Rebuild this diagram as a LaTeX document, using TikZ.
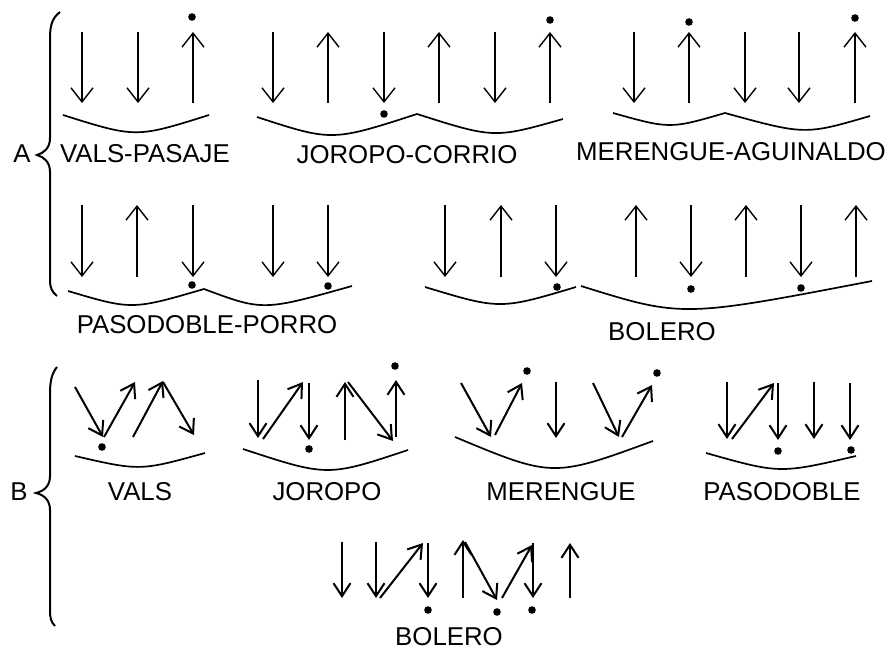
\documentclass[tikz,border=0pt]{standalone}
\usepackage{fontspec}
\setmainfont{Liberation Sans}
\usetikzlibrary{arrows.meta}
\tikzset{
  aarr/.style={line width=1.4pt,-{Straight Barb[length=14pt,width=22pt]}},
  barr/.style={line width=2pt,-{Straight Barb[length=13pt,width=17pt]}},
  arcline/.style={line width=1.7pt},
  bracel/.style={line width=2pt},
  lbl/.style={anchor=base,inner sep=0pt,font=\fontsize{25.8}{30}\selectfont},
}
\newcommand{\dotat}[2]{\fill (#1,#2) circle (3.8pt);}
\begin{document}
\begin{tikzpicture}[x=1pt,y=-1pt]
\useasboundingbox (0,0) rectangle (895,651);
% ---------- braces ----------
\draw[bracel] (60,12) .. controls (52,18) and (50,26) .. (50,38) -- (50,138)
  .. controls (50,148) and (44,153) .. (37,155) .. controls (44,157) and (50,162) .. (50,172)
  -- (50,280) .. controls (50,288) and (52,292) .. (57,296);
\draw[bracel] (57,367) .. controls (52,373) and (50,381) .. (50,393) -- (50,476)
  .. controls (50,486) and (44,491) .. (36,493) .. controls (44,495) and (50,500) .. (50,510)
  -- (50,610) .. controls (50,618) and (51,622) .. (55,626);
\node[lbl] (labA) at (22,162) {A};
\node[lbl] (labB) at (19,500) {B};
% ---------- A row 1 ----------
\foreach \x in {82,138,273,384,495,634,745,799} \draw[aarr] (\x,32) -- (\x,103);
\foreach \x in {193,328,439,550,689,855} \draw[aarr] (\x,103) -- (\x,32);
\dotat{192}{17} \dotat{384}{114} \dotat{550}{20} \dotat{689}{22} \dotat{855}{18}
\draw[arcline] (63,115) .. controls (136,138) .. (209,115);
\draw[arcline] (257,117) .. controls (332,141.5) .. (417,114) .. controls (494,138.5) .. (563,119);
\draw[arcline] (613,113) .. controls (670,129) .. (725,113) .. controls (805,135) .. (870,116);
\node[lbl] (vp) at (145,162) {VALS-PASAJE};
\node[lbl] (jc) at (407,163) {JOROPO-CORRIO};
\node[lbl] (ma) at (731,160) {MERENGUE-AGUINALDO};
% ---------- A row 2 ----------
\foreach \x in {82,193,273,328,445,556,691,801} \draw[aarr] (\x,205) -- (\x,277);
\foreach \x in {137,501,636,746,856} \draw[aarr] (\x,277) -- (\x,205);
\dotat{192}{285} \dotat{328}{286} \dotat{557}{287} \dotat{691}{289} \dotat{801}{288}
\draw[arcline] (68,291) .. controls (132,310) .. (204,289) .. controls (263,311) .. (352,286);
\draw[arcline] (425,287) .. controls (500,309.7) .. (576,287);
\draw[arcline] (581,286) .. controls (682,317.5) .. (872,281);
\node[lbl] (pp) at (207,333) {PASODOBLE-PORRO};
\node[lbl] (boA) at (662,340) {BOLERO};
% ---------- B : VALS ----------
\draw[barr] (75,387) -- (103,437);
\draw[barr] (104,437) -- (135,382);
\draw[barr] (133,437) -- (163,381);
\draw[barr] (163,382) -- (194,435);
\dotat{102}{447}
\draw[arcline] (75,456) .. controls (140,471) .. (205,453);
\node[lbl] (va) at (140,500) {VALS};
% ---------- B : JOROPO ----------
\draw[barr] (258,380) -- (258,438);
\draw[barr] (263,439) -- (303,382);
\draw[barr] (309,383) -- (309,440);
\draw[barr] (345,440) -- (345,382);
\draw[barr] (348,382) -- (393,441);
\draw[barr] (396,437) -- (396,380);
\dotat{309}{449} \dotat{395}{366}
\draw[arcline] (243,449) .. controls (327.5,476.8) .. (408,450);
\node[lbl] (jo) at (327,500) {JOROPO};
% ---------- B : MERENGUE ----------
\draw[barr] (461,383) -- (491,437);
\draw[barr] (495,435) -- (522,383);
\draw[barr] (556,382) -- (556,438);
\draw[barr] (593,383) -- (619,437);
\draw[barr] (622,437) -- (652,385);
\dotat{527}{371} \dotat{657}{373}
\draw[arcline] (455,437) .. controls (552.7,477.7) .. (653,441);
\node[lbl] (me) at (561,500) {MERENGUE};
% ---------- B : PASODOBLE ----------
\draw[barr] (727,382) -- (727,439);
\draw[barr] (732,439) -- (774,383);
\draw[barr] (778,383) -- (778,440);
\draw[barr] (814,382) -- (814,439);
\draw[barr] (850,383) -- (850,440);
\dotat{778}{451} \dotat{851}{450}
\draw[arcline] (706,453) .. controls (779.7,473.8) .. (856,456);
\node[lbl] (pa) at (782,500) {PASODOBLE};
% ---------- B : BOLERO ----------
\draw[barr] (342,542) -- (342,598);
\draw[barr] (376,542) -- (376,598);
\draw[barr] (380,598) -- (423,543);
\draw[barr] (428,543) -- (428,598);
\draw[barr] (463,598) -- (463,540);
\draw[barr] (465,542) -- (497,600);
\draw[barr] (502,598) -- (532,545);
\draw[barr] (533,543) -- (533,598);
\draw[barr] (570,598) -- (570,543);
\dotat{428}{610} \dotat{497}{612} \dotat{532}{610}
\node[lbl] (boB) at (449,645) {BOLERO};
\end{tikzpicture}
\end{document}
